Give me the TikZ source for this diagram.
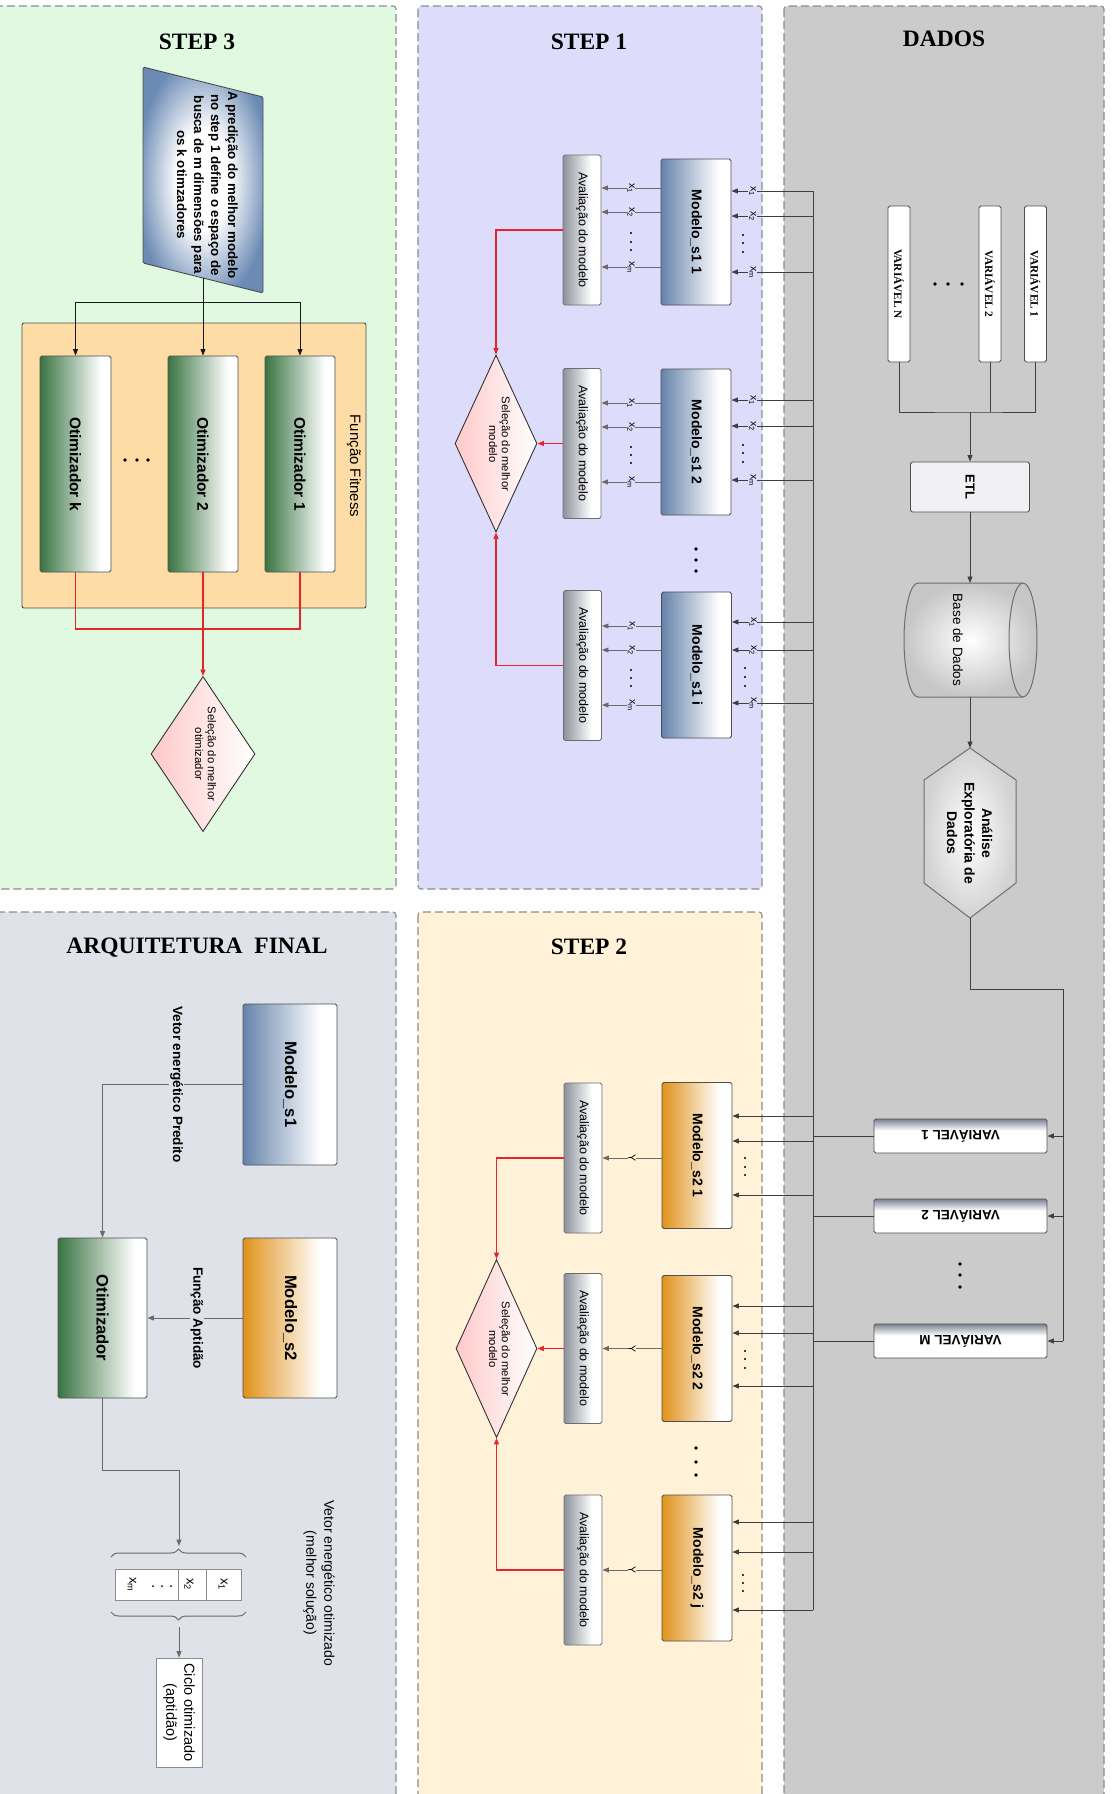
\documentclass[tikz,border=0pt]{standalone}
\usepackage{fontspec}
\setmainfont{Liberation Serif}
\setsansfont{Liberation Sans}
\usetikzlibrary{arrows.meta,shapes.geometric,decorations.pathreplacing}
\definecolor{bgThree}{HTML}{E1F8E1}
\definecolor{bgOne}{HTML}{DDDDFB}
\definecolor{bgData}{HTML}{CBCBCB}
\definecolor{bgArq}{HTML}{DFE2E8}
\definecolor{bgTwo}{HTML}{FFF2D9}
\definecolor{bgFit}{HTML}{FDDCA5}
\definecolor{cDash}{HTML}{8C8C8C}
\definecolor{cEdge}{HTML}{4F4F4F}
\definecolor{cEdgeL}{HTML}{6E6E6E}
\definecolor{cBlue}{HTML}{6683AB}
\definecolor{cBlueR}{HTML}{6B8AB4}
\definecolor{cGreen}{HTML}{3A7443}
\definecolor{cOrange}{HTML}{E0921B}
\definecolor{cGray}{HTML}{8D929B}
\definecolor{cPink}{HTML}{FFC9C9}
\definecolor{cRed}{HTML}{E8232B}
\definecolor{cLine}{HTML}{3F3F3F}
\definecolor{cLineG}{HTML}{6A6A6A}
\definecolor{cVar}{HTML}{7C8494}
\definecolor{cEtl}{HTML}{F1F1F3}
\definecolor{cCyl}{HTML}{C6C6C6}
\definecolor{cHex}{HTML}{D2D2D2}
\pgfdeclarehorizontalshading{shBlue}{100bp}{color(0bp)=(cBlue); color(25bp)=(cBlue); color(66bp)=(white); color(100bp)=(white)}
\pgfdeclarehorizontalshading{shGreen}{100bp}{color(0bp)=(cGreen); color(25bp)=(cGreen); color(68bp)=(white); color(100bp)=(white)}
\pgfdeclarehorizontalshading{shOrange}{100bp}{color(0bp)=(cOrange); color(25bp)=(cOrange); color(66bp)=(white); color(100bp)=(white)}
\pgfdeclarehorizontalshading{shGray}{100bp}{color(0bp)=(cGray); color(25bp)=(cGray); color(62bp)=(white); color(100bp)=(white)}
\pgfdeclareverticalshading{shVar}{100bp}{color(0bp)=(white); color(25bp)=(white); color(58bp)=(white); color(75bp)=(cVar); color(100bp)=(cVar)}
\pgfdeclareradialshading{shPara}{\pgfpoint{0bp}{0bp}}{color(0bp)=(white); color(11bp)=(white); color(28bp)=(cBlueR); color(50bp)=(cBlueR)}
\newcommand{\myfs}[2]{\fontsize{#1}{#2}\selectfont}
\newcommand{\myrot}[1]{\rotatebox{-90}{#1}}
\begin{document}
\begin{tikzpicture}[x=1pt,y=-1pt,
  panelbox/.style={draw=cDash, line width=1.1pt, dash pattern=on 8pt off 4pt, rounded corners=3pt},
  ttl/.style={inner sep=0, font={\myfs{23.5}{26}\rmfamily\bfseries}},
  basebox/.style={draw=cEdge, line width=0.9pt, rounded corners=1.8pt, inner sep=0},
  mblue/.style={basebox, shade, shading=shBlue, minimum width=70, minimum height=146, font={\myfs{14}{16}\sffamily\bfseries}},
  morange/.style={basebox, shade, shading=shOrange, minimum width=70, minimum height=146, font={\myfs{14}{16}\sffamily\bfseries}},
  evalbox/.style={basebox, draw=cEdgeL, shade, shading=shGray, minimum width=38, minimum height=150, font={\myfs{12.5}{14}\sffamily}},
  optbox/.style={basebox, shade, shading=shGreen},
  selbox/.style={diamond, draw=black!80, line width=0.9pt, inner sep=0, left color=cPink, right color=white},
  seltxt/.style={inner sep=0, font={\myfs{11.3}{12.8}\sffamily}},
  varbox/.style={basebox, fill=white, minimum width=22, minimum height=156, font={\myfs{11.3}{13}\rmfamily\bfseries}},
  varbbox/.style={basebox, shade, shading=shVar, minimum width=173, minimum height=34, font={\myfs{13.5}{15}\sffamily\bfseries}},
  lblOne/.style={fill=bgOne, inner sep=0.6pt, font={\myfs{10.5}{11}\sffamily}},
  lblTwo/.style={fill=bgTwo, inner sep=0.6pt, font={\myfs{10.5}{11}\sffamily}},
  lblArq/.style={fill=bgArq, inner sep=1pt, font={\myfs{13.5}{16}\sffamily\bfseries}},
  arrtip/.style={-{Triangle[length=6.5pt,width=5pt]}},
  blkarr/.style={draw=black!90, line width=0.9pt, arrtip},
  inarr/.style={draw=cLine, line width=0.9pt, arrtip},
  garr/.style={draw=cLineG, line width=0.9pt, arrtip},
  dline/.style={draw=cLine, line width=0.9pt},
  darr/.style={dline, arrtip},
  redline/.style={draw=cRed, line width=1.2pt},
  redarr/.style={redline, arrtip},
  aline/.style={draw=cLineG, line width=1pt},
  aarr/.style={aline, arrtip},
  cellbox/.style={draw=cDash, fill=white, line width=0.9pt, inner sep=0, minimum height=31},
  bracest/.style={draw=cLineG, line width=1pt, decorate, decoration={brace, amplitude=8pt}}
]
\useasboundingbox (0,0) rectangle (1118,1794);
\clip (0,0) rectangle (1118,1794);
\fill[white] (0,0) rectangle (1118,1794);
% panels
\draw[panelbox, fill=bgThree] (-8,6) rectangle (396,889);
\draw[panelbox, fill=bgOne] (418,6) rectangle (762,889);
\draw[panelbox, fill=bgData] (784,6) rectangle (1104,1820);
\draw[panelbox, fill=bgArq] (-8,912) rectangle (396,1820);
\draw[panelbox, fill=bgTwo] (418,912) rectangle (762,1820);
% titles
\node[ttl] (t3) at (197,42) {STEP 3};
\node[ttl] (t1) at (589,42) {STEP 1};
\node[ttl] (td) at (944,39) {DADOS};
\node[ttl] (ta) at (197,948) {ARQUITETURA\ \ FINAL};
\node[ttl] (t2) at (589,947) {STEP 2};

% ================= STEP 3
\shade[draw=cEdge, line width=0.9pt, rounded corners=1.5pt, shading=shPara] (143,67) -- (263,97) -- (263,293) -- (143,263) -- cycle;
\node[inner sep=0, font={\myfs{13.3}{17}\sffamily\bfseries}] (parat) at (206,185) {\myrot{\begin{tabular}{@{}c@{}}A predição do melhor modelo\\no step 1 define o espaço de\\busca de m dimensões para\\os k otimzadores\end{tabular}}};
\coordinate (paraS) at (203,278);
\coordinate (j3) at (203,302);
\node[draw=cEdge, line width=0.9pt, fill=bgFit, rounded corners=2pt, minimum width=344, minimum height=285, inner sep=0] (fitbox) at (194,465.5) {};
\node[inner sep=0, font={\myfs{15}{18}\sffamily}] (fitlbl) at (354,466) {\myrot{Função Fitness}};
\node[optbox, minimum width=71, minimum height=216, font={\myfs{15.5}{18}\sffamily\bfseries}] (otk) at (75.5,464) {\myrot{Otimizador k}};
\node[optbox, minimum width=70, minimum height=216, font={\myfs{15.5}{18}\sffamily\bfseries}] (ot2) at (203,464) {\myrot{Otimizador 2}};
\node[optbox, minimum width=70, minimum height=216, font={\myfs{15.5}{18}\sffamily\bfseries}] (ot1) at (300,464) {\myrot{Otimizador 1}};
\foreach \xx in {125,137,148} \fill (\xx,460) circle (1.8);
\node[selbox, minimum width=104, minimum height=155] (sel3) at (203,754) {};
\node[seltxt] (sel3t) at (204,754) {\myrot{\begin{tabular}{@{}c@{}}Seleção do melhor\\otimizador\end{tabular}}};
\draw[blkarr] (paraS) -- (ot2.north);
\draw[blkarr] (j3) -| (otk.north);
\draw[blkarr] (j3) -| (ot1.north);
\coordinate (j3r) at (203,629);
\draw[redline] (otk.south) |- (j3r) -| (ot1.south);
\draw[redarr] (ot2.south) -- (sel3.north);

% ================= DADOS
\node[varbox] (vN) at (899,284) {\myrot{VARIÁVEL N}};
\node[varbox] (vb2) at (990,284) {\myrot{VARIÁVEL 2}};
\node[varbox] (vb1) at (1035.5,284) {\myrot{VARIÁVEL 1}};
\foreach \xx in {935,948,962} \fill (\xx,284) circle (1.8);
\coordinate (jd) at (970,412);
\node[basebox, fill=cEtl, minimum width=119, minimum height=50, font={\myfs{13}{15}\sffamily\bfseries}] (etl) at (970,487) {\myrot{ETL}};
\draw[dline] (vN.south) |- (jd) -| (vb1.south);
\draw[dline] (vb2.south) -- (vb2.south |- jd);
\draw[darr] (jd) -- (etl.north);
% cylinder
\shade[draw=cEdgeL, line width=1pt, inner color=white, outer color=cCyl]
  (1023,583) -- (918,583) arc[start angle=270, end angle=90, x radius=14, y radius=57]
  -- (1023,697) arc[start angle=90, end angle=-90, x radius=14, y radius=57] -- cycle;
\draw[draw=cEdgeL, line width=1pt] (1023,583) arc[start angle=270, end angle=90, x radius=14, y radius=57];
\coordinate (cylN) at (970,583);
\coordinate (cylS) at (970,697);
\node[inner sep=0, font={\myfs{13.5}{16}\sffamily}] (dbt) at (958,640) {\myrot{Base de Dados}};
% hexagon
\shade[draw=cEdgeL, line width=1pt, inner color=white, outer color=cHex] (970,748) -- (1016,780) -- (1016,883) -- (970,918) -- (924,883) -- (924,780) -- cycle;
\coordinate (hexN) at (970,748);
\coordinate (hexS) at (970,918);
\node[inner sep=0, font={\myfs{14}{17.5}\sffamily\bfseries}] (hext) at (968,833) {\myrot{\begin{tabular}{@{}c@{}}Análise\\Exploratória de\\Dados\end{tabular}}};
\draw[darr] (etl.south) -- (cylN);
\draw[darr] (cylS) -- (hexN);
% variables bottom
\node[varbbox] (v1) at (960.5,1136) {\rotatebox{180}{VARIÁVEL 1}};
\node[varbbox] (v2) at (960.5,1216) {\rotatebox{180}{VARIÁVEL 2}};
\node[varbbox] (vM) at (960.5,1341) {\rotatebox{180}{VARIÁVEL M}};
\foreach \yy in {1264,1275,1287} \fill (960,\yy) circle (1.8);
\coordinate (jv1) at (1063,989);
\draw[dline] (hexS) |- (jv1) -- (jv1 |- vM.east);
\draw[darr] (jv1 |- v1.east) -- (v1.east);
\draw[darr] (jv1 |- v2.east) -- (v2.east);
\draw[darr] (jv1 |- vM.east) -- (vM.east);
% bus
\coordinate (busTop) at (813,191);
\coordinate (busBot) at (813,1610);
\draw[dline] (busTop) -- (busBot);
\draw[dline] (v1.west) -- (busTop |- v1.west);
\draw[dline] (v2.west) -- (busTop |- v2.west);
\draw[dline] (vM.west) -- (busTop |- vM.west);

% ================= STEP 1
\node[mblue] (m11) at (696,232) {\myrot{Modelo\_s1 1}};
\node[mblue] (m12) at (696,442) {\myrot{Modelo\_s1 2}};
\node[mblue] (m1i) at (696.5,665) {\myrot{Modelo\_s1 i}};
\node[evalbox] (a11) at (582,230) {\myrot{Avaliação do modelo}};
\node[evalbox] (a12) at (582,443.5) {\myrot{Avaliação do modelo}};
\node[evalbox] (a1i) at (582.5,665.5) {\myrot{Avaliação do modelo}};
\node[selbox, minimum width=82, minimum height=177] (sel1) at (496,443.5) {};
\node[seltxt] (sel1t) at (498,444) {\myrot{\begin{tabular}{@{}c@{}}Seleção do melhor\\modelo\end{tabular}}};
\foreach \yy in {549,560,571} \fill (696,\yy) circle (1.8);
% model 1
\foreach \yy/\lb in {188/1,212/2,267/m}
  \draw[garr] (m11.west |- 0,\yy) -- (a11.east |- 0,\yy) node[midway, lblOne] {\myrot{x\textsubscript{\lb}}};
\foreach \yy/\lb in {191/1,216/2,272/m}
  \draw[inarr] (busTop |- 0,\yy) -- (m11.east |- 0,\yy) node[pos=0.74, lblOne] {\myrot{x\textsubscript{\lb}}};
\foreach \yy in {233,242,250} \fill (631,\yy) circle (1.1);
\foreach \yy in {235,243,252} \fill (743,\yy) circle (1.1);
% model 2
\foreach \yy/\lb in {403/1,427/2,482/m}
  \draw[garr] (m12.west |- 0,\yy) -- (a12.east |- 0,\yy) node[midway, lblOne] {\myrot{x\textsubscript{\lb}}};
\foreach \yy/\lb in {400/1,426/2,480/m}
  \draw[inarr] (busTop |- 0,\yy) -- (m12.east |- 0,\yy) node[pos=0.74, lblOne] {\myrot{x\textsubscript{\lb}}};
\foreach \yy in {447,455,463} \fill (631,\yy) circle (1.1);
\foreach \yy in {445,453,462} \fill (743,\yy) circle (1.1);
% model i
\foreach \yy/\lb in {626/1,650/2,705/m}
  \draw[garr] (m1i.west |- 0,\yy) -- (a1i.east |- 0,\yy) node[midway, lblOne] {\myrot{x\textsubscript{\lb}}};
\foreach \yy/\lb in {622/1,650/2,703/m}
  \draw[inarr] (busTop |- 0,\yy) -- (m1i.east |- 0,\yy) node[pos=0.74, lblOne] {\myrot{x\textsubscript{\lb}}};
\foreach \yy in {670,678,686} \fill (631,\yy) circle (1.1);
\foreach \yy in {668,677,686} \fill (745,\yy) circle (1.1);
\draw[redarr] (a11.west) -| (sel1.north);
\draw[redarr] (a12.west) -- (sel1.east);
\draw[redarr] (a1i.west) -| (sel1.south);

% ================= STEP 2
\node[morange] (m21) at (697,1155.5) {\myrot{Modelo\_s2 1}};
\node[morange] (m22) at (697,1348.5) {\myrot{Modelo\_s2 2}};
\node[morange] (m2j) at (697,1568) {\myrot{Modelo\_s2 j}};
\node[evalbox] (a21) at (583,1158) {\myrot{Avaliação do modelo}};
\node[evalbox] (a22) at (583,1348.5) {\myrot{Avaliação do modelo}};
\node[evalbox] (a2j) at (583,1570) {\myrot{Avaliação do modelo}};
\node[selbox, minimum width=81, minimum height=178] (sel2) at (496.5,1348.5) {};
\node[seltxt] (sel2t) at (498,1349) {\myrot{\begin{tabular}{@{}c@{}}Seleção do melhor\\modelo\end{tabular}}};
\foreach \yy in {1448,1462,1475} \fill (696,\yy) circle (1.8);
\draw[garr] (m21.west |- a21.east) -- (a21.east) node[midway, lblTwo] {\myrot{Y}};
\draw[garr] (m22.west |- a22.east) -- (a22.east) node[midway, lblTwo] {\myrot{Y}};
\draw[garr] (m2j.west |- a2j.east) -- (a2j.east) node[midway, lblTwo] {\myrot{Y}};
\foreach \yy in {1116,1141,1195} \draw[inarr] (busTop |- 0,\yy) -- (m21.east |- 0,\yy);
\foreach \yy in {1306,1333,1386} \draw[inarr] (busTop |- 0,\yy) -- (m22.east |- 0,\yy);
\foreach \yy in {1522,1552,1610} \draw[inarr] (busTop |- 0,\yy) -- (m2j.east |- 0,\yy);
\foreach \yy in {1158,1167,1175} \fill (745,\yy) circle (1.1);
\foreach \yy in {1351,1359,1368} \fill (745,\yy) circle (1.1);
\foreach \yy in {1575,1583,1591} \fill (743,\yy) circle (1.1);
\draw[redarr] (a21.west) -| (sel2.north);
\draw[redarr] (a22.west) -- (sel2.east);
\draw[redarr] (a2j.west) -| (sel2.south);

% ================= ARQUITETURA FINAL
\node[basebox, shade, shading=shBlue, minimum width=94, minimum height=161, font={\myfs{16.6}{19}\sffamily\bfseries}] (ms1) at (290,1084.5) {\myrot{Modelo\_s1}};
\node[basebox, shade, shading=shOrange, minimum width=94, minimum height=160, font={\myfs{16.6}{19}\sffamily\bfseries}] (ms2) at (290,1318) {\myrot{Modelo\_s2}};
\node[optbox, minimum width=89, minimum height=160, font={\myfs{16.6}{19}\sffamily\bfseries}] (otz) at (102.5,1318) {\myrot{Otimizador}};
\draw[aarr] (ms1.west) -| (otz.north) node[pos=0.235, lblArq] {\myrot{Vetor energético Predito}};
\draw[aarr] (ms2.west) -- (otz.east) node[pos=0.48, lblArq] {\myrot{Função Aptidão}};
\coordinate (jA1) at (179,1470);
\coordinate (braceTop) at (179,1546);
\draw[aarr] (otz.south) |- (jA1) -- (braceTop);
\draw[bracest] (111,1557) -- (246,1557);
\node[cellbox, minimum width=35] (vx1) at (223.5,1584.5) {};
\node[cellbox, minimum width=28] (vx2) at (192,1584.5) {};
\node[cellbox, minimum width=63] (vxm) at (146.5,1584.5) {};
\node[inner sep=0, font={\myfs{13}{15}\sffamily}] (vx1t) at (223,1584.5) {\myrot{x\textsubscript{1}}};
\node[inner sep=0, font={\myfs{13}{15}\sffamily}] (vx2t) at (189,1584.5) {\myrot{x\textsubscript{2}}};
\node[inner sep=0, font={\myfs{13}{15}\sffamily}] (vxmt) at (132,1584.5) {\myrot{x\textsubscript{m}}};
\foreach \xx in {153,162,171} \fill (\xx,1586) circle (1);
\draw[bracest] (246,1612) -- (111,1612);
\coordinate (braceBot) at (179,1627);
\node[draw=cDash, fill=white, line width=0.9pt, inner sep=0, minimum width=46, minimum height=109, font={\myfs{14.5}{18}\sffamily}] (ciclo) at (179,1712.5) {\myrot{\begin{tabular}{@{}c@{}}Ciclo otimizado\\(aptidão)\end{tabular}}};
\draw[aarr] (braceBot) -- (ciclo.north);
\node[inner sep=0, font={\myfs{14}{18}\sffamily}] (vetopt) at (319,1583) {\myrot{\begin{tabular}{@{}c@{}}Vetor energético otimizado\\(melhor solução)\end{tabular}}};
\end{tikzpicture}
\end{document}
